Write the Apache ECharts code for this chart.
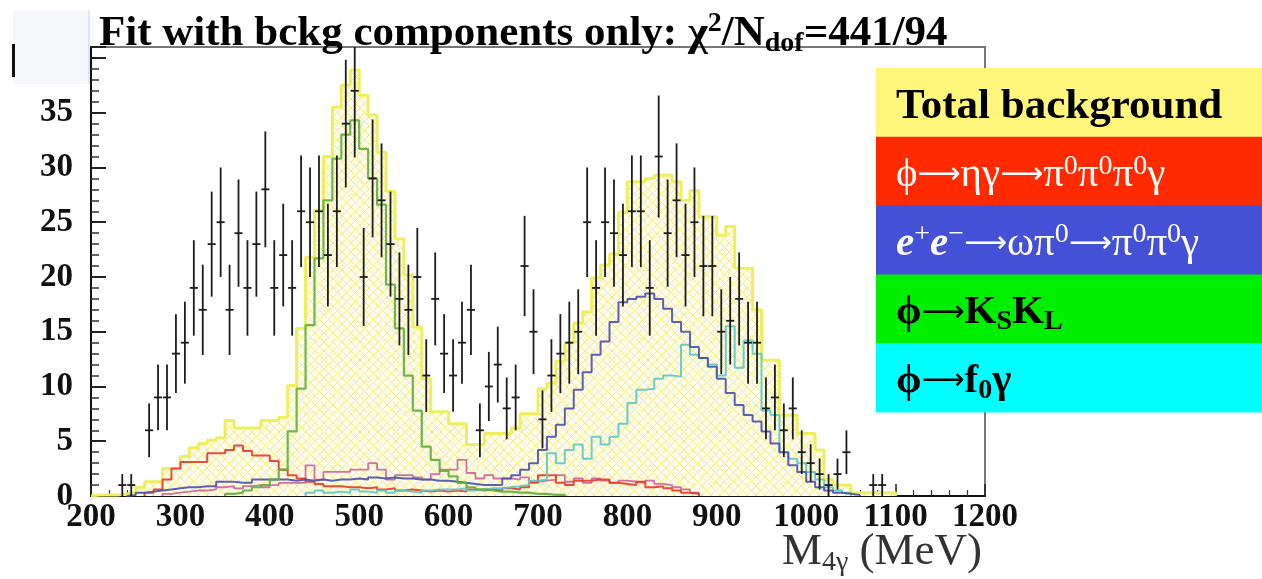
<!DOCTYPE html>
<html>
<head>
<meta charset="utf-8">
<script src="https://cdn.jsdelivr.net/npm/echarts@6/dist/echarts.min.js"></script>
<style>
  html, body { margin: 0; padding: 0; background: #ffffff; }
  #chart { width: 1262px; height: 579px; }
</style>
</head>
<body>
<div id="chart"></div>
<script>
// 4-photon invariant mass spectrum, 10 MeV bins starting at 200 MeV
const binStart = 200;
const binWidth = 10;

// Observed events per bin (bin centres 205, 215, ... 1195 MeV)
const dataCounts = [
  0, 0, 0, 1, 1, 0, 6, 9, 9, 13,
  14, 19, 17, 23, 25, 17, 24, 19, 23, 28,
  19, 22, 19, 26, 25, 26, 22, 26, 34, 37,
  20, 29, 27, 23, 18, 17, 20, 11, 18, 13,
  11, 14, 17, 6, 10, 12, 8, 9, 21, 15,
  7, 11, 13, 14, 15, 25, 19, 25, 24, 22,
  26, 26, 19, 31, 24, 27, 22, 25, 21, 21,
  15, 16, 18, 14, 14, 8, 9, 6, 8, 4,
  3, 2, 1, 2, 4, 0, 0, 1, 1, 0,
  0, 0, 0, 0, 0, 0, 0, 0, 0, 0
];

// Sum of all background components
const totalBackground = [
  0.1, 0.1, 0.1, 0.2, 0.3, 0.8, 1.3, 1.3, 2.5, 2.5,
  3.6, 4.4, 4.8, 5.1, 5.3, 6.9, 6.2, 6.2, 6.2, 6.9,
  6.9, 7.2, 10.1, 15.3, 21.8, 26.1, 31.0, 35.5, 37.5, 38.9,
  36.6, 34.8, 31.4, 27.8, 23.5, 20.2, 15.4, 10.7, 7.7, 7.7,
  6.6, 6.6, 4.7, 4.7, 5.7, 5.7, 5.7, 6.2, 7.5, 7.5,
  9.8, 10.3, 12.3, 14.0, 15.8, 16.8, 19.9, 21.1, 22.1, 25.9,
  28.7, 28.7, 29.0, 29.3, 29.3, 28.7, 27.0, 27.9, 25.5, 25.5,
  23.8, 24.6, 20.8, 20.8, 17.0, 12.4, 12.4, 7.4, 7.4, 5.7,
  5.7, 4.2, 1.5, 1.0, 1.0, 0.3, 0.3, 0.3, 0.3, 0.3,
  0, 0, 0, 0, 0, 0, 0, 0, 0, 0
];

// phi -> eta gamma -> 3pi0 gamma
const etaGamma = [
  0, 0, 0, 0, 0, 0, 0.3, 0.6, 1.5, 2.5,
  3.1, 3.1, 3.1, 3.9, 3.9, 4.2, 4.6, 4.1, 3.7, 3.7,
  3.2, 2.4, 1.9, 1.6, 1.3, 1.1, 0.9, 0.9, 0.8, 0.8,
  0.7, 0.8, 0.6, 0.7, 0.5, 0.6, 0.5, 0.4, 0.5, 0.4,
  0.5, 0.4, 0.6, 0.5, 0.6, 0.5, 0.7, 0.6, 0.8, 1.2,
  1.9, 1.9, 1.2, 1.0, 1.4, 1.4, 1.5, 1.5, 1.2, 1.1,
  1.0, 1.3, 0.8, 0.9, 0.7, 0.5, 0.3, 0.2, 0, 0,
  0, 0, 0, 0, 0, 0, 0, 0, 0, 0,
  0, 0, 0, 0, 0, 0, 0, 0, 0, 0,
  0, 0, 0, 0, 0, 0, 0, 0, 0, 0
];

// e+e- -> omega pi0 -> pi0 pi0 gamma
const omegaPi0 = [
  0, 0, 0, 0, 0.1, 0.3, 0.4, 0.5, 0.6, 0.7,
  0.8, 0.8, 0.9, 0.9, 1.3, 1.3, 1.2, 1.2, 1.5, 1.5,
  1.5, 1.5, 1.4, 1.5, 1.4, 1.5, 1.4, 1.5, 1.5, 1.6,
  1.5, 1.7, 1.6, 1.7, 1.6, 1.6, 1.5, 1.5, 1.4, 1.4,
  1.3, 1.2, 1.1, 1.0, 1.0, 1.0, 1.6, 1.9, 2.4, 3.0,
  4.2, 5.4, 6.5, 8.0, 9.7, 11.3, 12.9, 14.1, 15.9, 17.7,
  18.0, 18.2, 18.5, 18.0, 17.1, 15.9, 15.0, 13.6, 12.6, 11.8,
  10.7, 9.4, 8.3, 7.4, 6.8, 5.9, 4.8, 4.0, 2.8, 2.2,
  1.3, 0.8, 0.5, 0.3, 0.2, 0.1, 0, 0, 0, 0,
  0, 0, 0, 0, 0, 0, 0, 0, 0, 0
];

// phi -> KS KL
const kSkL = [
  0, 0, 0, 0, 0, 0, 0, 0, 0, 0,
  0, 0, 0, 0, 0, 0.2, 0.3, 0.5, 0.8, 1.0,
  1.5, 2.4, 5.9, 9.8, 15.6, 21.7, 27.0, 30.8, 33.0, 34.3,
  31.7, 29.0, 26.6, 19.3, 15.3, 11.0, 7.8, 4.5, 3.3, 2.3,
  1.8, 1.2, 0.8, 0.6, 0.5, 0.4, 0.4, 0.3, 0.3, 0.2,
  0.2, 0.1, 0.1, 0, 0, 0, 0, 0, 0, 0,
  0, 0, 0, 0, 0, 0, 0, 0, 0, 0,
  0, 0, 0, 0, 0, 0, 0, 0, 0, 0,
  0, 0, 0, 0, 0, 0, 0, 0, 0, 0,
  0, 0, 0, 0, 0, 0, 0, 0, 0, 0
];

// phi -> f0 gamma
const f0Gamma = [
  0, 0, 0, 0, 0, 0, 0, 0, 0, 0,
  0, 0, 0, 0, 0, 0, 0, 0, 0, 0,
  0, 0, 0, 0, 0.3, 0.5, 0.3, 0.4, 0.3, 0.6,
  0.4, 0.3, 0.5, 0.3, 0.5, 0.4, 0.3, 0.5, 0.6, 0.6,
  0.6, 0.7, 0.5, 0.6, 0.7, 0.7, 0.8, 0.9, 1.0, 1.4,
  1.5, 3.9, 3.0, 4.2, 4.7, 3.4, 5.4, 4.7, 5.4, 6.6,
  8.5, 9.7, 9.8, 10.7, 11.0, 10.9, 13.8, 12.9, 12.6, 12.0,
  11.0, 15.5, 11.7, 14.2, 13.0, 7.8, 7.4, 4.0, 3.4, 3.0,
  2.2, 1.5, 0.8, 0.5, 0.3, 0, 0, 0, 0, 0,
  0, 0, 0, 0, 0, 0, 0, 0, 0, 0
];

// Remaining small background channels
const otherChannels = [
  0, 0, 0, 0, 0, 0, 0, 0, 0.2, 0.3,
  0.4, 0.5, 0.5, 0.6, 0.8, 0.9, 0.7, 0.9, 1.0, 0.8,
  1.0, 1.2, 1.2, 1.2, 2.8, 1.5, 2.2, 2.2, 2.2, 2.4,
  2.4, 3.0, 2.4, 1.5, 1.9, 1.9, 1.7, 1.5, 2.0, 2.4,
  2.4, 3.3, 2.1, 1.6, 1.9, 1.6, 1.6, 1.5, 1.7, 1.3,
  1.4, 1.5, 1.9, 1.3, 1.6, 1.2, 1.6, 1.4, 1.2, 1.4,
  1.3, 1.2, 1.4, 1.1, 1.0, 0.8, 0.6, 0.3, 0, 0,
  0, 0, 0, 0, 0, 0, 0, 0, 0, 0,
  0, 0, 0, 0, 0, 0, 0, 0, 0, 0,
  0, 0, 0, 0, 0, 0, 0, 0, 0, 0
];

const xTicks = { min: 200, max: 1200, step: 100 };
const yTicks = { min: 0, max: 41, step: 5, lastLabel: 35 };

const legendRows = [
  { text: '{b|Total background}', fill: '#fff77c' },
  { text: '{r|ϕ}{ra|⟶}{r|ηγ}{ra|⟶}{r|π}{rs|0}{r|π}{rs|0}{r|π}{rs|0}{r|γ}', fill: '#ff2a00' },
  { text: '{ei|e}{es|+}{ei|e}{es|−}{ra|⟶}{r|ωπ}{rs|0}{ra|⟶}{r|π}{rs|0}{r|π}{rs|0}{r|γ}', fill: '#4450d6' },
  { text: '{k|ϕ}{ka|⟶}{k|K}{kb|S}{k|K}{kb|L}', fill: '#00ee00' },
  { text: '{k|ϕ}{ka|⟶}{k|f}{kb|0}{k|γ}', fill: '#00ffff' }
];

const serif = '"Liberation Serif", "DejaVu Serif", serif';
const arrowFont = '"DejaVu Sans", "Liberation Serif", sans-serif';

// Cross-hatched fill used under the total background histogram
function hatchPattern() {
  const c = document.createElement('canvas');
  c.width = 9; c.height = 9;
  const g = c.getContext('2d');
  g.fillStyle = '#fffde6';
  g.fillRect(0, 0, 9, 9);
  g.strokeStyle = '#efe994';
  g.lineWidth = 1;
  g.beginPath();
  g.moveTo(0, 0); g.lineTo(9, 9);
  g.moveTo(9, 0); g.lineTo(0, 9);
  g.stroke();
  return c;
}

// Step outline of a histogram, closed down to zero at both ends
function histogramPath(values) {
  const first = values.findIndex(v => v > 0);
  let last = values.length - 1;
  while (last > first && !(values[last] > 0)) last--;
  const pts = [[binStart + first * binWidth, 0]];
  for (let i = first; i <= last; i++) pts.push([binStart + i * binWidth, values[i]]);
  const endEdge = binStart + (last + 1) * binWidth;
  pts.push([endEdge, values[last]]);
  pts.push([endEdge, 0]);
  return pts;
}

function stepSeries(name, values, color, width, z) {
  return {
    name, type: 'line', step: 'end', showSymbol: false, silent: true,
    data: histogramPath(values), z,
    lineStyle: { color, width, opacity: 0.9 }
  };
}

const dataPoints = dataCounts
  .map((n, i) => [binStart + (i + 0.5) * binWidth, n, Math.sqrt(n)])
  .filter(p => p[1] > 0);

const chart = echarts.init(document.getElementById('chart'), null, { renderer: 'canvas' });

const grid = { left: 91, right: 277, top: 47, bottom: 83 };

chart.setOption({
  animation: false,
  backgroundColor: '#ffffff',
  title: {
    left: 94, top: 5,
    text: '{b|Fit with bckg components only: χ}{sup|2}{b|/N}{sub|dof}{b|=441/94}',
    textStyle: {
      rich: {
        b: { fontFamily: serif, fontWeight: 'bold', fontSize: 43, color: '#000', lineHeight: 48 },
        sup: { fontFamily: serif, fontWeight: 'bold', fontSize: 28, color: '#000', verticalAlign: 'top', lineHeight: 48 },
        sub: { fontFamily: serif, fontWeight: 'bold', fontSize: 28, color: '#000', verticalAlign: 'bottom', lineHeight: 48, padding: [16, 0, 0, 0] }
      }
    }
  },
  grid: { ...grid, show: true, borderColor: '#777', borderWidth: 2, backgroundColor: 'transparent' },
  xAxis: {
    type: 'value', min: xTicks.min, max: xTicks.max, interval: xTicks.step,
    axisLine: { show: true, lineStyle: { color: '#111', width: 2 } },
    axisTick: { show: true, inside: true, length: 12, lineStyle: { color: '#222', width: 1.5 } },
    minorTick: { show: true, splitNumber: 5, length: 6, lineStyle: { color: '#333', width: 1.2 } },
    splitLine: { show: false },
    axisLabel: {
      fontFamily: serif, fontWeight: 'bold', fontSize: 33, color: '#111', margin: 5,
      formatter: v => String(v)
    }
  },
  yAxis: {
    type: 'value', min: yTicks.min, max: yTicks.max, interval: yTicks.step,
    axisLine: { show: true, lineStyle: { color: '#111', width: 2 } },
    axisTick: { show: true, inside: true, length: 15, lineStyle: { color: '#222', width: 2 } },
    minorTick: { show: true, splitNumber: 5, length: 8, lineStyle: { color: '#333', width: 1.5 } },
    splitLine: { show: false },
    axisLabel: {
      fontFamily: serif, fontWeight: 'bold', fontSize: 33, color: '#111', margin: 18,
      showMaxLabel: false,
      formatter: v => (v <= yTicks.lastLabel ? String(v) : '')
    }
  },
  series: [
    {
      name: 'Total background', type: 'line', step: 'end', showSymbol: false, silent: true,
      data: histogramPath(totalBackground), z: 1,
      lineStyle: { color: '#eeee55', width: 3, opacity: 0.95 },
      areaStyle: { color: { image: hatchPattern(), repeat: 'repeat' }, opacity: 1 }
    },
    stepSeries('Other channels', otherChannels, '#d0609c', 1.8, 2),
    stepSeries('φ→ηγ→π0π0π0γ', etaGamma, '#e83a24', 2, 3),
    stepSeries('φ→f0γ', f0Gamma, '#5cc8c8', 2, 3),
    stepSeries('e+e−→ωπ0→π0π0γ', omegaPi0, '#4a4fb0', 2, 4),
    stepSeries('φ→KSKL', kSkL, '#5fae3e', 2.2, 4),
    {
      name: 'Data', type: 'custom', z: 10, silent: true,
      data: dataPoints,
      encode: { x: 0, y: 1 },
      renderItem(params, api) {
        const x = api.value(0), y = api.value(1), e = api.value(2);
        const c = api.coord([x, y]);
        const hi = api.coord([x, Math.min(yTicks.max, y + e)]);
        const lo = api.coord([x, Math.max(0, y - e)]);
        const hw = api.size([binWidth, 0])[0] * 0.45;
        return {
          type: 'group',
          children: [
            { type: 'line', shape: { x1: c[0], y1: hi[1], x2: c[0], y2: lo[1] },
              style: { stroke: '#1c1c1c', lineWidth: 1.8 } },
            { type: 'line', shape: { x1: c[0] - hw, y1: c[1], x2: c[0] + hw, y2: c[1] },
              style: { stroke: '#1c1c1c', lineWidth: 1.8 } }
          ]
        };
      }
    }
  ],
  graphic: [
    // fragment of a neighbouring slide element in the corner
    { type: 'rect', left: 13, top: 10, shape: { width: 77, height: 74 }, style: { fill: '#f7f8fc' }, z: -1 },
    { type: 'rect', left: 88, top: 10, shape: { width: 2, height: 74 }, style: { fill: '#e2e5f2' }, z: -1 },
    { type: 'rect', left: 12, top: 44, shape: { width: 3, height: 33 }, style: { fill: '#111' } },
    // axis title
    {
      type: 'text', right: 1262 - 982, top: 530, z: 20,
      style: {
        text: '{m|M}{s|4γ}{m| (MeV)}',
        rich: {
          m: { fontFamily: serif, fontSize: 45, fill: '#333', lineHeight: 48 },
          s: { fontFamily: serif, fontSize: 28, fill: '#333', verticalAlign: 'bottom', lineHeight: 48, padding: [18, 0, 0, 0] }
        }
      }
    },
    // legend panel
    {
      type: 'group', left: 876, top: 68, z: 30,
      children: legendRows.flatMap((row, i) => {
        const h = 68.8;
        return [
          { type: 'rect', shape: { x: 0, y: i * h, width: 386, height: h + 0.5 }, style: { fill: row.fill } },
          {
            type: 'text', x: 20, y: i * h + h / 2 + 4,
            style: {
              text: row.text, verticalAlign: 'middle', align: 'left',
              rich: {
                b: { fontFamily: serif, fontWeight: 'bold', fontSize: 43, fill: '#000', lineHeight: 46 },
                r: { fontFamily: serif, fontSize: 41, fill: '#fff', lineHeight: 46 },
                ra: { fontFamily: arrowFont, fontSize: 30, fill: '#fff', lineHeight: 46 },
                rs: { fontFamily: serif, fontSize: 28, fill: '#fff', verticalAlign: 'top', lineHeight: 46 },
                ei: { fontFamily: serif, fontWeight: 'bold', fontStyle: 'italic', fontSize: 41, fill: '#fff', lineHeight: 46 },
                es: { fontFamily: serif, fontSize: 28, fill: '#fff', verticalAlign: 'top', lineHeight: 46 },
                k: { fontFamily: serif, fontWeight: 'bold', fontSize: 41, fill: '#000', lineHeight: 46 },
                ka: { fontFamily: arrowFont, fontSize: 30, fill: '#000', lineHeight: 46 },
                kb: { fontFamily: serif, fontWeight: 'bold', fontSize: 28, fill: '#000', verticalAlign: 'bottom', lineHeight: 46, padding: [14, 0, 0, 0] }
              }
            }
          }
        ];
      })
    }
  ]
});
</script>
</body>
</html>
